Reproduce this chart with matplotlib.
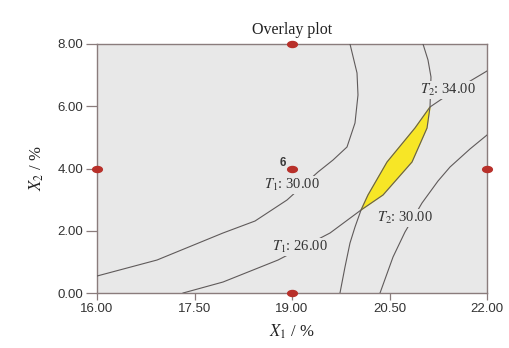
import numpy as np
import matplotlib.pyplot as plt
from matplotlib.path import Path

plt.rcParams['mathtext.fontset'] = 'stix'

# ---------------- Data ----------------

# T1 = 30 contour
t1_30_x = [16.00, 16.923, 17.938, 18.431, 18.923, 19.400, 19.631, 19.846, 19.969, 20.015, 20.000, 19.892]
t1_30_y = [0.546, 1.060, 1.928, 2.313, 2.988, 3.888, 4.273, 4.691, 5.462, 6.361, 7.068, 8.000]

# T1 = 26 contour
t1_26_x = [17.323, 17.938, 18.785, 19.585, 20.062, 20.400, 20.846, 21.077, 21.123, 21.138, 21.092, 21.015]
t1_26_y = [0.000, 0.353, 1.060, 1.928, 2.667, 3.149, 4.209, 5.301, 5.976, 6.940, 7.486, 8.000]

# T2 = 34 contour
t2_34_x = [19.738, 19.815, 19.892, 19.969, 20.062, 20.169, 20.462, 20.892, 21.123, 21.508, 21.923, 22.000]
t2_34_y = [0.000, 0.835, 1.606, 2.120, 2.667, 3.149, 4.209, 5.301, 5.976, 6.522, 7.036, 7.133]

# T2 = 30 contour
t2_30_x = [20.354, 20.554, 20.738, 21.000, 21.246, 21.431, 21.738, 22.000]
t2_30_y = [0.000, 1.157, 1.960, 2.892, 3.598, 4.048, 4.627, 5.076]

# design points
pts_x = [19, 16, 19, 22, 19]
pts_y = [8, 4, 4, 4, 0]

# contour labels: text, x, y
labels = [
    (r"$T_1$: 30.00", 19.00, 3.47),
    (r"$T_1$: 26.00", 19.12, 1.48),
    (r"$T_2$: 34.00", 21.40, 6.52),
    (r"$T_2$: 30.00", 20.74, 2.41),
]

xticks = [16.00, 17.50, 19.00, 20.50, 22.00]
yticks = [0.00, 2.00, 4.00, 6.00, 8.00]

# ---------------- Figure ----------------

bg = "#e8e8e8"
line_c = "#5f5a5a"
frame_c = "#8a7c7c"

fig = plt.figure(figsize=(5.09, 3.48), dpi=100)
ax = fig.add_axes([0.1906, 0.158, 0.7662, 0.7156])
ax.set_facecolor(bg)

# feasible lens between T2=34 (upper-left edge) and T1=26 (lower-right edge)
lens_x = t2_34_x[4:9] + t1_26_x[4:9][::-1]
lens_y = t2_34_y[4:9] + t1_26_y[4:9][::-1]
ax.fill(lens_x, lens_y, color="#f7e626", zorder=2)

for cx, cy in [(t1_30_x, t1_30_y), (t1_26_x, t1_26_y), (t2_34_x, t2_34_y), (t2_30_x, t2_30_y)]:
    ax.plot(cx, cy, color=line_c, lw=0.8, zorder=3)

for txt, lx, ly in labels:
    ax.text(lx, ly, txt, family="Liberation Serif", fontsize=10.5, color="#333333",
            ha="center", va="center", zorder=4,
            bbox=dict(facecolor=bg, edgecolor="none", pad=0.5))

# ellipse-shaped markers
circ = Path.unit_circle()
ell = Path(circ.vertices * np.array([1.0, 0.62]), circ.codes)
ax.plot(pts_x, pts_y, linestyle="none", marker=ell, markersize=7,
        color="#b8302a", clip_on=False, zorder=5)
ax.text(18.86, 4.18, "6", family="Liberation Sans", fontsize=8.5, fontweight="bold",
        color="#3a3a3a", ha="center", va="center", zorder=5)

ax.set_xlim(16, 22)
ax.set_ylim(0, 8)
ax.set_xticks(xticks)
ax.set_yticks(yticks)
ax.set_xticklabels([f"{v:.2f}" for v in xticks], family="Liberation Sans", fontsize=9.5, color="#333333")
ax.set_yticklabels([f"{v:.2f}" for v in yticks], family="Liberation Sans", fontsize=9.5, color="#333333")
ax.tick_params(axis="x", direction="out", length=5, width=0.9, color=frame_c, pad=2)
ax.tick_params(axis="y", direction="out", length=8, width=0.9, color=frame_c, pad=2)
for sp in ax.spines.values():
    sp.set_color(frame_c)
    sp.set_linewidth(1.0)

ax.set_title("Overlay plot", family="Liberation Serif", fontsize=11.5, color="#222222", pad=7)
ax.set_xlabel(r"$X_1$ / %", family="Liberation Serif", fontsize=12, color="#222222", labelpad=6)
ax.set_ylabel(r"$X_2$ / %", family="Liberation Serif", fontsize=12, color="#222222", labelpad=8)

fig.savefig("out.png", dpi=100)
